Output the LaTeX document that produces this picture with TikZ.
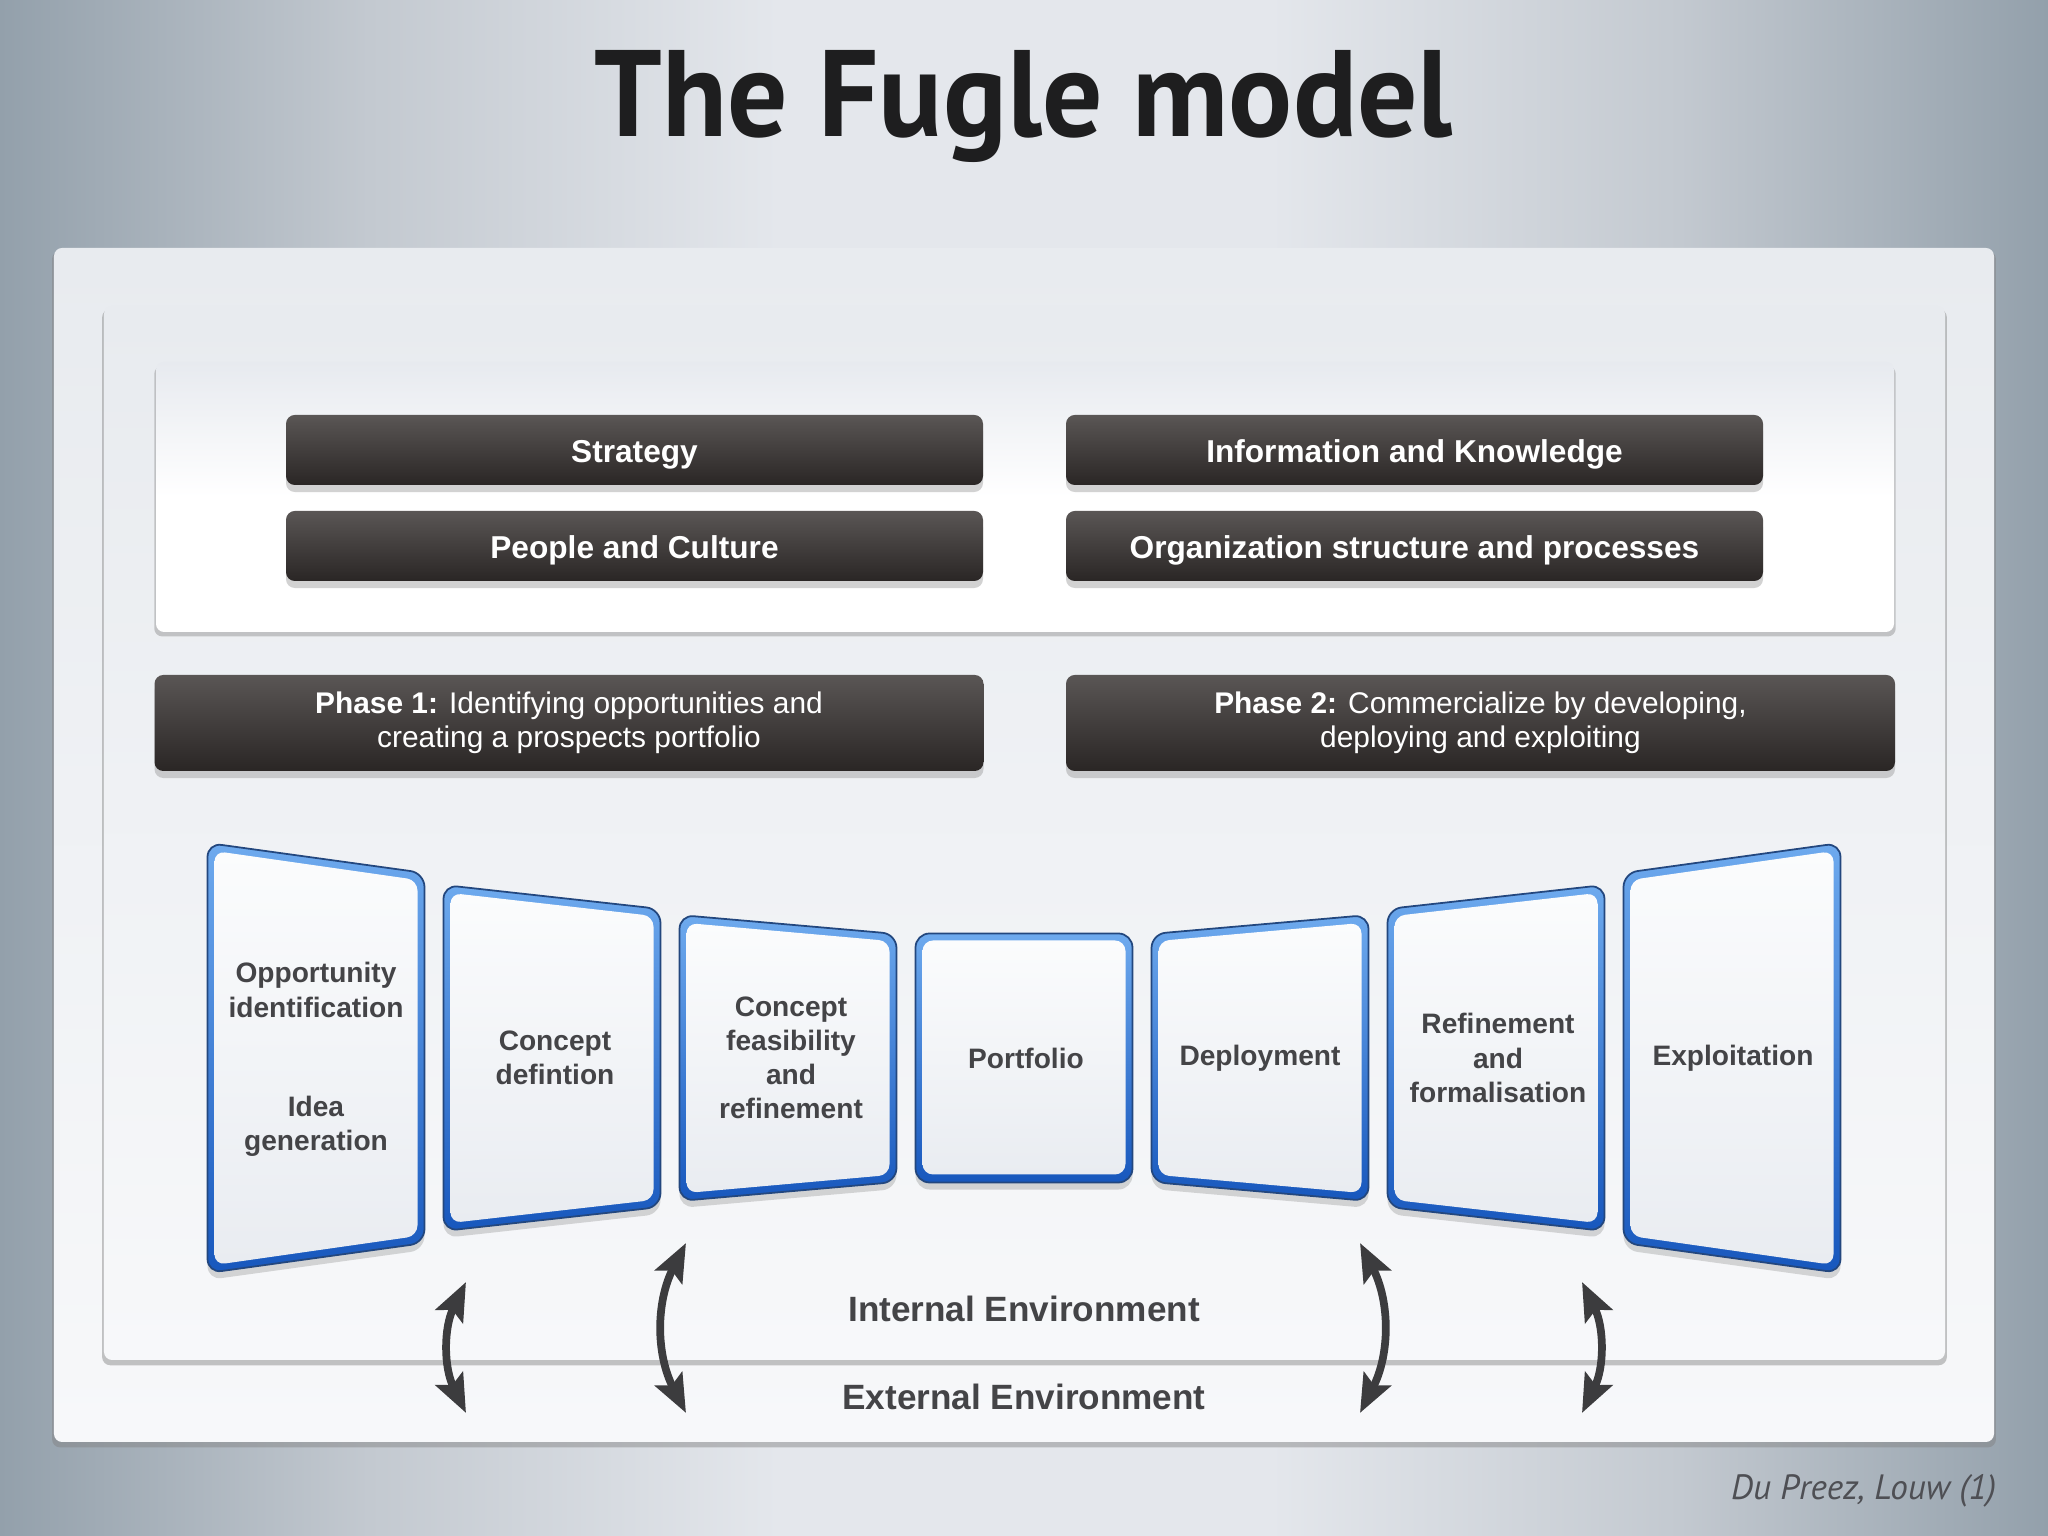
\documentclass[tikz,border=0pt]{standalone}
\usepackage{fontspec}
\setmainfont{Liberation Sans}
\newfontfamily\titlefont[FakeStretch=0.97]{PT Sans}
\newfontfamily\creditfont{PT Sans}
\usetikzlibrary{positioning, arrows.meta, shadows}
\definecolor{bgSide}{HTML}{93A0AB}
\definecolor{bgSoft}{HTML}{C3C9D0}
\definecolor{bgMid}{HTML}{E4E7EC}
\definecolor{panelTop}{HTML}{E8EBEF}
\definecolor{panelBot}{HTML}{F7F8FA}
\definecolor{boxTop}{HTML}{E7EAEF}
\definecolor{barTop}{HTML}{5A5655}
\definecolor{barMid}{HTML}{342F2E}
\definecolor{barBot}{HTML}{2A2625}
\definecolor{cardTop}{HTML}{6EAAEE}
\definecolor{cardBot}{HTML}{1757BD}
\definecolor{cardEdge}{HTML}{23477E}
\definecolor{cardFillTop}{HTML}{FBFCFD}
\definecolor{cardFillBot}{HTML}{E9ECF1}
\definecolor{labelGray}{HTML}{444447}
\definecolor{arrowGray}{HTML}{3C3C3E}
\definecolor{titleColor}{HTML}{1E1E1F}
\definecolor{creditColor}{HTML}{4E4F54}
% tikz fits the inner 25bp--75bp band of a shading to the path
\pgfdeclarehorizontalshading{bgshade}{100bp}{color(0bp)=(bgSide); color(25bp)=(bgSide); color(34bp)=(bgSoft); color(44bp)=(bgMid); color(56bp)=(bgMid); color(66bp)=(bgSoft); color(75bp)=(bgSide); color(100bp)=(bgSide)}

\begin{document}
\begin{tikzpicture}[
    every node/.style={inner sep=0pt},
    panel/.style={
        rounded corners=2.3pt,
        top color=panelTop,
        bottom color=panelBot,
        drop shadow={shadow xshift=0pt, shadow yshift=-1.2pt, shadow scale=1.002, opacity=0.45},
    },
    topbox/.style={
        rounded corners=2.3pt,
        top color=boxTop,
        bottom color=white,
        middle color=white,
        drop shadow={shadow xshift=0pt, shadow yshift=-1.2pt, shadow scale=1.002, opacity=0.4},
    },
    bar/.style={
        rectangle,
        rounded corners=2.5pt,
        minimum width=6.97cm,
        minimum height=0.70cm,
        text height=1.6ex,
        text depth=0.3ex,
        top color=barTop,
        middle color=barMid,
        bottom color=barBot,
        text=white,
        font=\fontsize{9}{11}\selectfont\bfseries,
        drop shadow={shadow xshift=0pt, shadow yshift=-2pt, opacity=0.35},
    },
    phase/.style={
        bar,
        minimum width=8.29cm,
        minimum height=0.96cm,
        text height=,
        text depth=,
        align=center,
        font=\fontsize{8.5}{9.8}\selectfont,
    },
    cardframe/.style={
        rounded corners=4pt,
        top color=cardTop,
        bottom color=cardBot,
        draw=cardEdge,
        line width=0.5pt,
        drop shadow={shadow xshift=0pt, shadow yshift=-2pt, opacity=0.3},
    },
    cardface/.style={
        rounded corners=3pt,
        top color=cardFillTop,
        bottom color=cardFillBot,
    },
    cardtext/.style={
        align=center,
        text=labelGray,
        font=\fontsize{8}{9.7}\selectfont\bfseries,
    },
    envlabel/.style={
        text=labelGray,
        font=\fontsize{10}{12}\selectfont\bfseries,
    },
    envarrow/.style={
        {Stealth[length=0.38cm, width=0.30cm, inset=0.07cm]}-{Stealth[length=0.38cm, width=0.30cm, inset=0.07cm]},
        line width=2.2pt,
        color=arrowGray,
    },
]

\useasboundingbox (0,0) rectangle (20.48,15.36);
\shade[shading=bgshade] (0,0) rectangle (20.48,15.36);

% title
\node[anchor=base, text=titleColor, font=\titlefont\bfseries\fontsize{35}{40}\selectfont] (title) at (10.24,13.99) {The Fugle model};

% panels
\path[panel] (0.54,0.94) rectangle (19.94,12.88);
\path[panel] (1.04,1.76) rectangle (19.45,12.30);
\path[topbox] (1.56,9.04) rectangle (18.94,11.74);

% success factors
\node[bar] (strategy) at (6.345,10.86) {Strategy};
\node[bar] (people) at (6.345,9.90) {People and Culture};
\node[bar] (info) at (14.145,10.86) {Information and Knowledge};
\node[bar] (orgstruct) at (14.145,9.90) {Organization structure and processes};

% phases
\node[phase] (phaseone) at (5.69,8.13) {\textbf{Phase 1:} Identifying opportunities and\\creating a prospects portfolio};
\node[phase] (phasetwo) at (14.805,8.13) {\textbf{Phase 2:} Commercialize by developing,\\deploying and exploiting};

% cards
\path[cardframe] (2.075,2.63) -- (2.075,6.93) -- (4.245,6.63) -- (4.245,2.93) -- cycle;
\path[cardface] (2.145,2.71) -- (2.145,6.85) -- (4.175,6.56) -- (4.175,3.00) -- cycle;
\path[cardframe] (4.435,3.05) -- (4.435,6.51) -- (6.605,6.27) -- (6.605,3.29) -- cycle;
\path[cardface] (4.505,3.13) -- (4.505,6.43) -- (6.535,6.20) -- (6.535,3.36) -- cycle;
\path[cardframe] (6.795,3.35) -- (6.795,6.21) -- (8.965,6.02) -- (8.965,3.54) -- cycle;
\path[cardface] (6.865,3.43) -- (6.865,6.13) -- (8.895,5.95) -- (8.895,3.61) -- cycle;
\path[cardframe] (9.155,3.535) -- (9.155,6.025) -- (11.325,6.025) -- (11.325,3.535) -- cycle;
\path[cardface] (9.225,3.615) -- (9.225,5.955) -- (11.255,5.955) -- (11.255,3.615) -- cycle;
\path[cardframe] (11.515,3.54) -- (11.515,6.02) -- (13.685,6.21) -- (13.685,3.35) -- cycle;
\path[cardface] (11.585,3.61) -- (11.585,5.95) -- (13.615,6.13) -- (13.615,3.43) -- cycle;
\path[cardframe] (13.875,3.29) -- (13.875,6.27) -- (16.045,6.51) -- (16.045,3.05) -- cycle;
\path[cardface] (13.945,3.36) -- (13.945,6.20) -- (15.975,6.43) -- (15.975,3.13) -- cycle;
\path[cardframe] (16.235,2.93) -- (16.235,6.63) -- (18.405,6.93) -- (18.405,2.63) -- cycle;
\path[cardface] (16.305,3.00) -- (16.305,6.56) -- (18.335,6.85) -- (18.335,2.71) -- cycle;

\node[cardtext] (oppid) at (3.16,5.46) {Opportunity\\identification};
\node[cardtext] (ideagen) at (3.16,4.10) {Idea\\generation};
\node[cardtext] (conceptdef) at (5.55,4.78) {Concept\\defintion};
\node[cardtext] (feasibility) at (7.91,4.78) {Concept\\feasibility\\and\\refinement};
\node[cardtext] (portfolio) at (10.26,4.78) {Portfolio};
\node[cardtext] (deployment) at (12.60,4.78) {Deployment};
\node[cardtext] (formalise) at (14.98,4.78) {Refinement\\and\\formalisation};
\node[cardtext] (exploit) at (17.33,4.78) {Exploitation};

% environments
\node[envlabel] (internal) at (10.24,2.27) {Internal Environment};
\node[envlabel] (external) at (10.24,1.39) {External Environment};

\coordinate (a1top) at (4.66,2.54);
\coordinate (a1bot) at (4.66,1.23);
\coordinate (a2top) at (6.86,2.93);
\coordinate (a2bot) at (6.86,1.23);
\coordinate (a3top) at (13.60,2.93);
\coordinate (a3bot) at (13.60,1.23);
\coordinate (a4top) at (15.82,2.54);
\coordinate (a4bot) at (15.82,1.23);

\draw[envarrow] (a1top) to[bend right=26] (a1bot);
\draw[envarrow] (a2top) to[bend right=27] (a2bot);
\draw[envarrow] (a3top) to[bend left=27] (a3bot);
\draw[envarrow] (a4top) to[bend left=26] (a4bot);

% source
\node[anchor=base east, text=creditColor, font=\creditfont\itshape\fontsize{10}{12}\selectfont] (credit) at (19.97,0.36) {Du Preez, Louw (1)};

\end{tikzpicture}
\end{document}
